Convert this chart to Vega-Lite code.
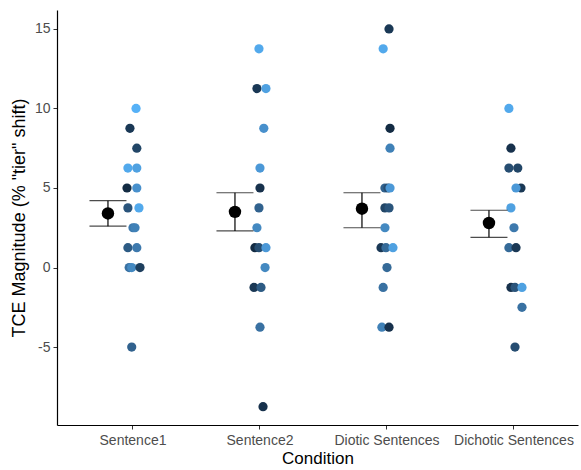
{
  "$schema": "https://vega.github.io/schema/vega-lite/v6.json",
  "width": 521,
  "height": 415,
  "autosize": {"type": "none"},
  "padding": {"left": 57, "top": 10, "right": 3, "bottom": 45},
  "background": "white",
  "config": {
    "view": {"stroke": null},
    "font": "Liberation Sans",
    "axis": {"grid": false, "domainColor": "#000000", "domainWidth": 1.2, "tickColor": "#333333", "tickSize": 4, "labelColor": "#4D4D4D", "labelFontSize": 14, "titleColor": "#000000", "titleFontWeight": "normal", "labelFont": "Liberation Sans", "titleFont": "Liberation Sans"}
  },
  "datasets": {
    "pts": [
      {"cond": "Sentence1", "tce": 10, "id": 19, "jitter": 0.024},
      {"cond": "Sentence1", "tce": 8.75, "id": 3, "jitter": -0.024},
      {"cond": "Sentence1", "tce": 7.5, "id": 5, "jitter": 0.03},
      {"cond": "Sentence1", "tce": 6.25, "id": 18, "jitter": -0.04},
      {"cond": "Sentence1", "tce": 6.25, "id": 17, "jitter": 0.03},
      {"cond": "Sentence1", "tce": 5, "id": 1, "jitter": -0.047},
      {"cond": "Sentence1", "tce": 5, "id": 15, "jitter": 0.03},
      {"cond": "Sentence1", "tce": 3.75, "id": 7, "jitter": -0.04},
      {"cond": "Sentence1", "tce": 3.75, "id": 18, "jitter": 0.047},
      {"cond": "Sentence1", "tce": 2.5, "id": 12, "jitter": 0.0},
      {"cond": "Sentence1", "tce": 2.5, "id": 13, "jitter": 0.016},
      {"cond": "Sentence1", "tce": 1.25, "id": 8, "jitter": -0.04},
      {"cond": "Sentence1", "tce": 1.25, "id": 12, "jitter": 0.03},
      {"cond": "Sentence1", "tce": 0, "id": 11, "jitter": -0.03},
      {"cond": "Sentence1", "tce": 0, "id": 14, "jitter": -0.01},
      {"cond": "Sentence1", "tce": 0, "id": 4, "jitter": 0.055},
      {"cond": "Sentence1", "tce": -5, "id": 9, "jitter": -0.01},
      {"cond": "Sentence2", "tce": 13.75, "id": 18, "jitter": -0.008},
      {"cond": "Sentence2", "tce": 11.25, "id": 3, "jitter": -0.024},
      {"cond": "Sentence2", "tce": 11.25, "id": 17, "jitter": 0.047},
      {"cond": "Sentence2", "tce": 8.75, "id": 15, "jitter": 0.03},
      {"cond": "Sentence2", "tce": 6.25, "id": 16, "jitter": 0.0},
      {"cond": "Sentence2", "tce": 5, "id": 2, "jitter": 0.0},
      {"cond": "Sentence2", "tce": 3.75, "id": 9, "jitter": -0.008},
      {"cond": "Sentence2", "tce": 2.5, "id": 14, "jitter": -0.024},
      {"cond": "Sentence2", "tce": 1.25, "id": 1, "jitter": -0.04},
      {"cond": "Sentence2", "tce": 1.25, "id": 6, "jitter": -0.008},
      {"cond": "Sentence2", "tce": 1.25, "id": 16, "jitter": 0.047},
      {"cond": "Sentence2", "tce": 0, "id": 14, "jitter": 0.04},
      {"cond": "Sentence2", "tce": -1.25, "id": 3, "jitter": -0.047},
      {"cond": "Sentence2", "tce": -1.25, "id": 8, "jitter": 0.008},
      {"cond": "Sentence2", "tce": -3.75, "id": 11, "jitter": 0.0},
      {"cond": "Sentence2", "tce": -8.75, "id": 2, "jitter": 0.024},
      {"cond": "Diotic Sentences", "tce": 15, "id": 3, "jitter": 0.016},
      {"cond": "Diotic Sentences", "tce": 13.75, "id": 18, "jitter": -0.03},
      {"cond": "Diotic Sentences", "tce": 8.75, "id": 1, "jitter": 0.024},
      {"cond": "Diotic Sentences", "tce": 7.5, "id": 13, "jitter": 0.024},
      {"cond": "Diotic Sentences", "tce": 5, "id": 9, "jitter": -0.016},
      {"cond": "Diotic Sentences", "tce": 5, "id": 6, "jitter": 0.008},
      {"cond": "Diotic Sentences", "tce": 5, "id": 16, "jitter": 0.024},
      {"cond": "Diotic Sentences", "tce": 3.75, "id": 5, "jitter": -0.016},
      {"cond": "Diotic Sentences", "tce": 3.75, "id": 7, "jitter": 0.016},
      {"cond": "Diotic Sentences", "tce": 2.5, "id": 14, "jitter": -0.016},
      {"cond": "Diotic Sentences", "tce": 1.25, "id": 3, "jitter": -0.047},
      {"cond": "Diotic Sentences", "tce": 1.25, "id": 10, "jitter": -0.008},
      {"cond": "Diotic Sentences", "tce": 1.25, "id": 17, "jitter": 0.047},
      {"cond": "Diotic Sentences", "tce": 0, "id": 10, "jitter": 0.0},
      {"cond": "Diotic Sentences", "tce": -1.25, "id": 11, "jitter": -0.03},
      {"cond": "Diotic Sentences", "tce": -3.75, "id": 13, "jitter": -0.04},
      {"cond": "Diotic Sentences", "tce": -3.75, "id": 2, "jitter": 0.016},
      {"cond": "Dichotic Sentences", "tce": 10, "id": 18, "jitter": -0.04},
      {"cond": "Dichotic Sentences", "tce": 7.5, "id": 2, "jitter": -0.024},
      {"cond": "Dichotic Sentences", "tce": 6.25, "id": 6, "jitter": -0.04},
      {"cond": "Dichotic Sentences", "tce": 6.25, "id": 5, "jitter": 0.03},
      {"cond": "Dichotic Sentences", "tce": 5, "id": 3, "jitter": 0.055},
      {"cond": "Dichotic Sentences", "tce": 5, "id": 16, "jitter": 0.016},
      {"cond": "Dichotic Sentences", "tce": 3.75, "id": 17, "jitter": -0.024},
      {"cond": "Dichotic Sentences", "tce": 2.5, "id": 12, "jitter": 0.0},
      {"cond": "Dichotic Sentences", "tce": 1.25, "id": 10, "jitter": -0.04},
      {"cond": "Dichotic Sentences", "tce": 1.25, "id": 3, "jitter": 0.016},
      {"cond": "Dichotic Sentences", "tce": -1.25, "id": 2, "jitter": -0.024},
      {"cond": "Dichotic Sentences", "tce": -1.25, "id": 7, "jitter": 0.008},
      {"cond": "Dichotic Sentences", "tce": -1.25, "id": 17, "jitter": 0.063},
      {"cond": "Dichotic Sentences", "tce": -2.5, "id": 11, "jitter": 0.063},
      {"cond": "Dichotic Sentences", "tce": -5, "id": 6, "jitter": 0.008}
    ],
    "means": [
      {"cond": "Sentence1", "mean": 3.4, "lo": 2.6, "hi": 4.2},
      {"cond": "Sentence2", "mean": 3.5, "lo": 2.3, "hi": 4.7},
      {"cond": "Diotic Sentences", "mean": 3.7, "lo": 2.5, "hi": 4.7},
      {"cond": "Dichotic Sentences", "mean": 2.8, "lo": 1.9, "hi": 3.6}
    ]
  },
  "encoding": {
    "x": {
      "field": "cond", "type": "nominal",
      "sort": ["Sentence1", "Sentence2", "Diotic Sentences", "Dichotic Sentences"],
      "scale": {"type": "band", "paddingInner": 0, "paddingOuter": 0.0512, "align": 0.96},
      "axis": {"title": "Condition", "labelAngle": 0, "titleFontSize": 17, "labelPadding": 4, "titlePadding": 3}
    }
  },
  "layer": [
    {
      "data": {"name": "pts"},
      "mark": {"type": "circle", "size": 85, "opacity": 1},
      "encoding": {
        "xOffset": {"field": "jitter", "type": "quantitative", "scale": {"domain": [-0.5, 0.5]}},
        "y": {
          "field": "tce", "type": "quantitative",
          "scale": {"domain": [-9.9, 16.19], "nice": false, "zero": false},
          "axis": {"values": [-5, 0, 5, 10, 15], "labelExpr": "replace(datum.label, '\u2212', '-')", "title": "TCE Magnitude (% \"tier\" shift)", "titleFontSize": 18, "labelPadding": 3, "titlePadding": 6}
        },
        "color": {"field": "id", "type": "quantitative", "scale": {"range": ["#132B43", "#56B1F7"]}, "legend": null}
      }
    },
    {
      "data": {"name": "means"},
      "mark": {"type": "rule", "color": "#000000", "strokeWidth": 1.2},
      "encoding": {
        "xOffset": {"datum": -0.197, "type": "quantitative"},
        "y": {"field": "lo", "type": "quantitative"},
        "y2": {"field": "hi"}
      }
    },
    {
      "data": {"name": "means"},
      "mark": {"type": "tick", "color": "#000000", "size": 37, "thickness": 1.2},
      "encoding": {
        "xOffset": {"datum": -0.197, "type": "quantitative"},
        "y": {"field": "lo", "type": "quantitative"}
      }
    },
    {
      "data": {"name": "means"},
      "mark": {"type": "tick", "color": "#000000", "size": 37, "thickness": 1.2},
      "encoding": {
        "xOffset": {"datum": -0.197, "type": "quantitative"},
        "y": {"field": "hi", "type": "quantitative"}
      }
    },
    {
      "data": {"name": "means"},
      "mark": {"type": "circle", "size": 155, "color": "#000000", "opacity": 1},
      "encoding": {
        "xOffset": {"datum": -0.197, "type": "quantitative"},
        "y": {"field": "mean", "type": "quantitative"}
      }
    }
  ]
}
